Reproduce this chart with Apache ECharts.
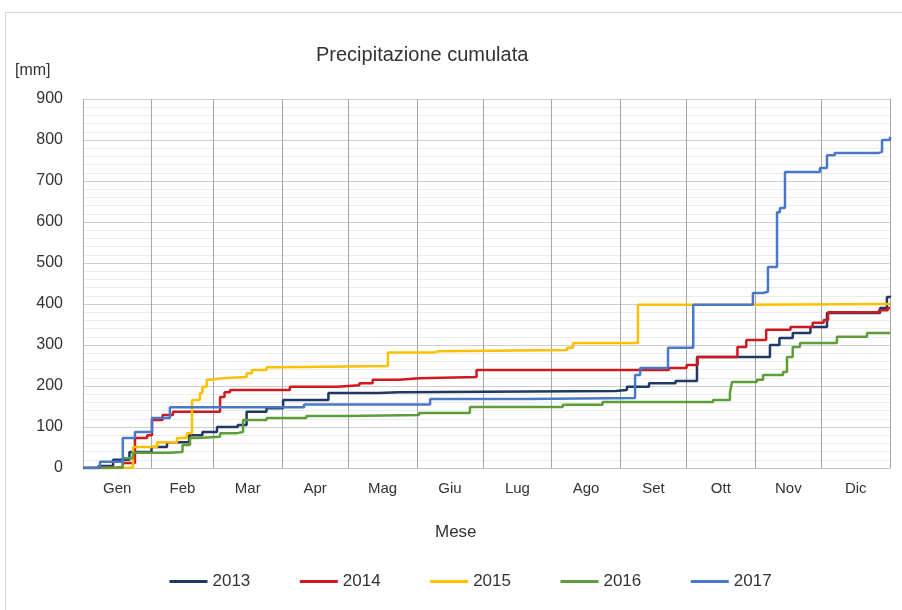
<!DOCTYPE html>
<html>
<head>
<meta charset="utf-8">
<script src="https://cdn.jsdelivr.net/npm/echarts@6/dist/echarts.min.js"></script>
<style>
html, body { margin: 0; padding: 0; background: #fff; }
#frame { position: absolute; left: 5px; top: 12px; width: 930px; height: 640px; border: 1px solid #d4d4d4; }
#chart { position: absolute; left: 0; top: 0; width: 902px; height: 610px; }
</style>
</head>
<body>
<div id="frame"></div>
<div id="chart"></div>
<script>
// mesi (asse x in giorni dell'anno)
const monthNames = ["Gen", "Feb", "Mar", "Apr", "Mag", "Giu", "Lug", "Ago", "Set", "Ott", "Nov", "Dic"];
const monthStarts = [0, 31, 59, 90, 120, 151, 181, 212, 243, 273, 304, 334, 365];
const yTicks = [0, 100, 200, 300, 400, 500, 600, 700, 800, 900];

// precipitazione cumulata [giorno, mm]
const y2013 = [[0,0],[7,5],[13.6,20],[21,39],[31,51],[38,63],[48,80],[54,88],[60.6,100],[70,105],[74,137],[83,146],[90.5,166],[111,183],[134,185],[143,188],[241,190],[246,198],[256,207],[268,212],[277.7,271],[307,271],[310.7,300],[315,317],[321,329],[329,344],[336.5,378],[360.5,390],[363.6,417],[365,420]];
const y2014 = [[0,0],[12,2],[18,12],[23.5,73],[29,80],[31.2,117],[36,129],[40.7,137],[62,173],[64,185],[66.5,190],[93.6,198],[115,202],[125,207],[131,215],[143,219],[152,222],[178,239],[265,244],[273,251],[278,271],[296,295],[300,312],[309,337],[320,344],[330,354],[335,361],[337,380],[360,385],[364,390],[365,390]];
const y2015 = [[0,0],[21,2],[22.6,51],[29,51],[33.5,63],[42.5,73],[47,85],[49.3,166],[52.9,183],[54,198],[56,215],[57.4,219],[63,222],[74,231],[76.4,239],[83,246],[89,249],[137.9,282],[159,285],[161,288],[219,293],[221.6,305],[251,398],[300,400],[365,400]];
const y2016 = [[0,0],[18,24],[22.6,37],[39,39],[45,56],[48.4,73],[52,76],[62,85],[69.7,88],[72.4,117],[83,122],[101,127],[119,129],[152,134],[175,149],[217,154],[235,161],[285,166],[292.6,183],[293.5,210],[304.8,215],[307.6,227],[316.6,234],[318.4,271],[321,295],[324.3,305],[341,320],[354.6,329],[365,329]];
const y2017 = [[0,0],[7.7,15],[18,73],[23.5,88],[31.2,122],[39.3,148],[100,155],[157,168],[200,171],[249.7,227],[252,244],[264.6,293],[276,398],[303,427],[307.6,430],[309.8,490],[313.9,624],[315.2,634],[317.5,722],[333.3,732],[336.5,763],[340,768],[359.6,771],[361.4,800],[365,808]];

const years = ["2013", "2014", "2015", "2016", "2017"];
const yearData = [y2013, y2014, y2015, y2016, y2017];
const colors = ["#1f3864", "#d01820", "#ffc000", "#5e9e3a", "#4a78c8"];

const monthMids = monthNames.map((m, i) => (monthStarts[i] + monthStarts[i + 1]) / 2);

const chart = echarts.init(document.getElementById("chart"), null, { renderer: "canvas" });

const font = "'Liberation Sans', Arial, sans-serif";

chart.setOption({
	animation: false,
	color: colors,
	textStyle: { fontFamily: font },
	title: [
		{ text: "Precipitazione cumulata", left: 311, top: 40, textStyle: { fontSize: 20, fontWeight: "normal", color: "#333333", fontFamily: font } },
		{ text: "[mm]", left: 10, top: 58, textStyle: { fontSize: 16, fontWeight: "normal", color: "#333333", fontFamily: font } },
		{ text: "Mese", left: 430, top: 519, textStyle: { fontSize: 17, fontWeight: "normal", color: "#333333", fontFamily: font } }
	],
	grid: { left: 83, right: 12, top: 99, bottom: 142 },
	legend: {
		data: years,
		left: 163,
		top: 568,
		itemWidth: 38,
		itemHeight: 14,
		itemGap: 48,
		itemStyle: { opacity: 0 },
		lineStyle: { width: 3 },
		textStyle: { fontSize: 17, color: "#333333", fontFamily: font }
	},
	xAxis: {
		type: "value",
		min: 0,
		max: 365,
		axisLine: { show: true, lineStyle: { color: "#bfbfbf", width: 1 } },
		axisTick: { show: false, customValues: monthStarts },
		axisLabel: {
			customValues: monthMids,
			formatter: (v) => monthNames[monthMids.indexOf(v)] || "",
			fontSize: 15,
			color: "#333333",
			margin: 13
		},
		splitLine: { show: true, lineStyle: { color: "#a6a6a6", width: 1 } }
	},
	yAxis: {
		type: "value",
		min: 0,
		max: 900,
		interval: 100,
		axisLine: { show: false },
		axisTick: { show: false },
		axisLabel: { fontSize: 16, color: "#333333", margin: 20, customValues: yTicks },
		splitLine: { show: true, lineStyle: { color: "#cfcfcf", width: 1 } },
		minorTick: { show: false, splitNumber: 5 },
		minorSplitLine: { show: true, lineStyle: { color: "#ececec", width: 1 } }
	},
	series: years.map((y, i) => ({
		name: y,
		type: "line",
		step: "end",
		data: yearData[i],
		symbol: "none",
		lineStyle: { width: 2.5, color: colors[i] }
	}))
});
</script>
</body>
</html>
